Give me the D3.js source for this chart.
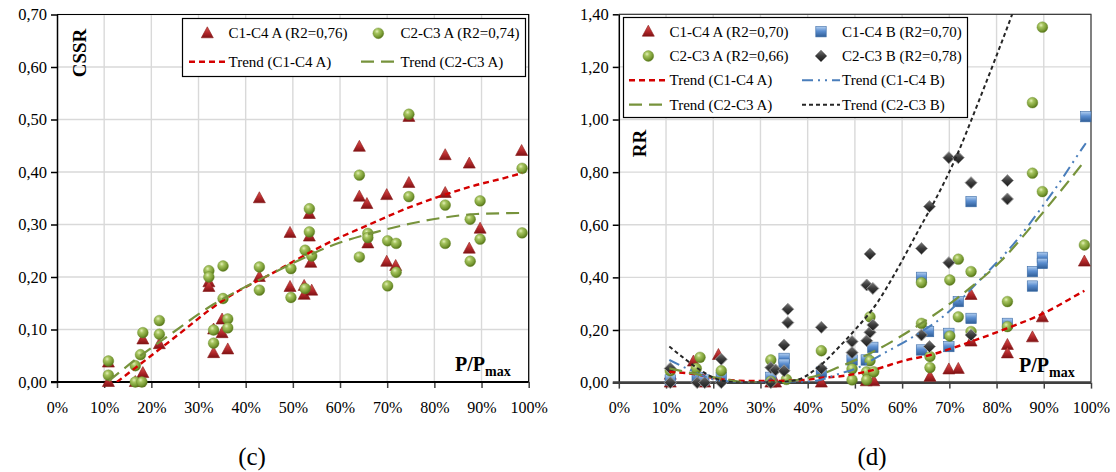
<!DOCTYPE html>
<html><head><meta charset="utf-8">
<script src="https://cdn.jsdelivr.net/npm/d3@7"></script>
<style>
body{margin:0;background:#fff}
svg{display:block}
text{font-family:"Liberation Serif","Times New Roman",serif;fill:#000}
</style>
</head><body>
<svg id="chart" width="1116" height="472"></svg>
<script>
// ---------------- DATA ----------------
const xTickValues = [0,10,20,30,40,50,60,70,80,90,100];
const cssrTickValues = [0,0.1,0.2,0.3,0.4,0.5,0.6,0.7];
const rrTickValues = [0,0.2,0.4,0.6,0.8,1.0,1.2,1.4];

// (c) CSSR  -- [P/Pmax %, value]
const cssrC1C4A = [[10.9,0.000],[10.9,0.037],[16.6,0.000],[17.4,0.000],[18.2,0.081],[18.2,0.017],[21.7,0.072],
 [32.2,0.190],[32.2,0.181],[33.2,0.100],[33.2,0.055],[35.0,0.119],[35.0,0.093],[36.2,0.062],
 [42.9,0.350],[42.9,0.200],[49.4,0.284],[49.4,0.181],[52.4,0.183],[52.4,0.166],[53.5,0.320],[53.5,0.277],[53.8,0.227],[54.0,0.174],
 [64.1,0.448],[64.1,0.353],[65.7,0.339],[65.9,0.264],[69.9,0.356],[69.9,0.229],[71.8,0.221],
 [74.6,0.505],[74.6,0.379],[82.3,0.432],[82.3,0.360],[87.4,0.416],[87.4,0.254],[89.7,0.292],[98.5,0.440]];
const cssrC2C3A = [[10.9,0.040],[10.9,0.013],[16.6,0.000],[16.6,0.031],[17.7,0.052],[18.0,0.000],[18.2,0.094],[21.7,0.117],[21.7,0.091],
 [32.2,0.212],[32.2,0.200],[33.2,0.099],[33.2,0.074],[35.2,0.221],[35.2,0.159],[36.2,0.120],[36.2,0.103],
 [42.9,0.219],[42.9,0.175],[49.6,0.216],[49.6,0.161],[52.6,0.251],[52.6,0.178],[53.5,0.330],[53.5,0.286],[54.0,0.240],
 [64.1,0.394],[64.1,0.238],[65.9,0.283],[65.9,0.275],[70.1,0.269],[70.1,0.183],[71.9,0.264],[71.9,0.209],
 [74.6,0.510],[74.6,0.353],[82.3,0.337],[82.3,0.264],[87.6,0.310],[87.6,0.230],[89.7,0.345],[89.7,0.272],[98.6,0.407],[98.6,0.284]];
const cssrTrendC1C4A = [[12.7,0],[19.8,0.049],[26.1,0.093],[33.2,0.143],[37.4,0.168],[42.4,0.192],[45.2,0.205],[50.0,0.229],[57.5,0.265],
 [65.7,0.298],[74.8,0.333],[82.3,0.357],[88.0,0.373],[94.6,0.388],[98.6,0.398]];
const cssrTrendC2C3A = [[11.0,0.002],[18.3,0.054],[23.3,0.086],[33.2,0.148],[40.3,0.183],[45.2,0.205],[50.6,0.229],[57.7,0.258],
 [67.8,0.286],[81.9,0.313],[89.0,0.320],[98.6,0.322]];

// (d) RR
const rrC1C4A = [[10.9,0.0],[10.9,0.03],[15.8,0.08],[18.2,0.0],[21.1,0.105],[32.2,0.0],[33.2,0.0],[42.9,0.0],[52.4,0.005],[54.0,0.005],
 [65.9,0.022],[69.9,0.05],[71.9,0.052],[74.6,0.333],[74.6,0.156],[82.3,0.143],[82.3,0.111],[87.6,0.172],[89.7,0.248],[98.6,0.46]];
const rrC1C4B = [[10.9,0.01],[16.6,0.02],[18.0,0.01],[21.7,0.02],[32.2,0.02],[35.0,0.092],[35.0,0.07],[42.9,0.04],[49.4,0.086],
 [52.4,0.086],[53.8,0.134],[64.1,0.40],[64.1,0.124],[65.6,0.194],[69.9,0.187],[69.9,0.137],[71.9,0.308],[74.6,0.688],[74.6,0.244],
 [82.3,0.225],[87.6,0.422],[87.6,0.367],[89.7,0.476],[89.7,0.453],[98.9,1.011]];
const rrC2C3A = [[10.9,0.045],[16.4,0.054],[17.2,0.096],[21.7,0.045],[32.2,0.086],[32.2,0.005],[35.5,0.012],[42.9,0.121],
 [49.4,0.052],[49.4,0.01],[52.5,0.041],[52.5,0.01],[53.2,0.25],[53.2,0.083],[54.0,0.041],[64.1,0.38],[64.1,0.225],[65.9,0.099],
 [65.9,0.057],[70.1,0.39],[70.1,0.177],[71.9,0.469],[71.9,0.25],[74.6,0.422],[74.6,0.194],[82.3,0.308],[82.3,0.213],
 [87.6,1.064],[87.6,0.796],[89.7,1.351],[89.7,0.726],[98.6,0.523]];
const rrC2C3B = [[10.9,0.054],[10.9,0.0],[16.6,0.0],[18.2,0.0],[21.7,0.089],[21.7,0.0],[32.2,0.057],[32.2,0.0],[33.2,0.048],
 [35.0,0.143],[35.0,0.045],[35.8,0.279],[35.8,0.228],[42.9,0.21],[42.9,0.054],[49.4,0.156],[49.4,0.114],[52.5,0.159],[52.5,0.371],
 [53.2,0.489],[53.2,0.191],[53.8,0.358],[53.8,0.219],[64.1,0.51],[64.1,0.181],[65.8,0.669],[65.8,0.137],[69.9,0.855],[69.9,0.456],
 [71.9,0.855],[74.6,0.76],[74.6,0.181],[82.3,0.768],[82.3,0.698]];
const rrTrendC1C4A = [[10.7,0.041],[17.2,0.029],[21.4,0.013],[29.2,0.006],[37.7,0.008],[44,0.02],[46.9,0.024],[53.2,0.045],[61,0.086],
 [66,0.105],[69.5,0.124],[76.5,0.168],[82.2,0.206],[89.9,0.263],[97.7,0.34],[98.6,0.349]];
const rrTrendC1C4B = [[10.7,0.086],[15.1,0.048],[20.7,0.01],[28,0.0],[36,0.0],[42.6,0.01],[46.9,0.035],[49.7,0.05],[56,0.11],
 [62.4,0.175],[69.1,0.257],[75.8,0.378],[84.3,0.542],[90.7,0.694],[92,0.726],[98.4,0.897],[98.9,0.91]];
const rrTrendC2C3A = [[10.7,0.054],[21.4,0.016],[28,0.0],[33,0.0],[37.7,0.01],[42.6,0.03],[46.5,0.058],[53.2,0.111],[63.8,0.222],
 [70.2,0.301],[72.3,0.33],[80.8,0.46],[88.5,0.618],[92,0.694],[96.3,0.789],[98.8,0.846]];
const rrTrendC2C3B = [[10.7,0.137],[14,0.09],[17.2,0.048],[21.4,0.01],[26,0],[32,0],[37.7,0.01],[41.9,0.054],[46.9,0.14],[50,0.2],
 [54.9,0.308],[58,0.40],[63.8,0.59],[67,0.694],[71.5,0.86],[75.8,1.05],[79.5,1.22],[83.3,1.40],[84.5,1.46]];

// ---------------- STYLES ----------------
const svg = d3.select("#chart");
const defs = svg.append("defs");
function linGrad(id, stops){
  const g = defs.append("linearGradient").attr("id", id).attr("x1",0).attr("y1",0).attr("x2",0).attr("y2",1);
  stops.forEach(s => g.append("stop").attr("offset", s[0]).attr("stop-color", s[1]));
}
linGrad("gTri", [[0,"#d9574f"],[0.55,"#b3282b"],[1,"#7f1214"]]);
linGrad("gSq", [[0,"#b3cff0"],[0.45,"#5b8ed0"],[1,"#2f5d96"]]);
linGrad("gDia", [[0,"#777"],[0.5,"#3a3a3a"],[1,"#1b1b1b"]]);
const rg = defs.append("radialGradient").attr("id","gCir").attr("cx","38%").attr("cy","32%").attr("r","68%");
[[0,"#e3f0b8"],[0.3,"#a6c45f"],[0.75,"#789a33"],[1,"#557318"]].forEach(s => rg.append("stop").attr("offset", s[0]).attr("stop-color", s[1]));

const markers = {
  tri: g => g.append("path").attr("d","M0,-6.5L6,4.5L-6,4.5Z").attr("fill","url(#gTri)").attr("stroke","#8a1a1a").attr("stroke-width",0.6),
  cir: g => g.append("circle").attr("r",5.4).attr("fill","url(#gCir)").attr("stroke","#6a8a2a").attr("stroke-width",0.4),
  sq:  g => g.append("rect").attr("x",-5.2).attr("y",-5.2).attr("width",10.4).attr("height",10.4).attr("fill","url(#gSq)").attr("stroke","#3b6ba6").attr("stroke-width",0.6),
  dia: g => g.append("path").attr("d","M0,-6L6,0L0,6L-6,0Z").attr("fill","url(#gDia)").attr("stroke","#9a9a9a").attr("stroke-width",0.9)
};
const trendStyles = {
  red:   {color:"#d40000", dash:"6,4", width:2.4},
  green: {color:"#77933c", dash:"13,7", width:2.2},
  blue:  {color:"#4a7ebb", dash:"11,5,2,5,2,5", width:2},
  black: {color:"#262626", dash:"4,3", width:2}
};

const locale = d3.formatLocale({decimal:",", thousands:".", grouping:[3], currency:["","€"]});
const yFmt = locale.format(".2f");

function drawChart(cfg){
  const x = d3.scaleLinear().domain([0,100]).range([cfg.x0, cfg.x1]);
  const y = d3.scaleLinear().domain([0, cfg.yMax]).range([cfg.y0, cfg.y1]);
  const g = svg.append("g");
  const clipId = "clip" + cfg.id;
  defs.append("clipPath").attr("id", clipId).append("rect")
    .attr("x", cfg.x0).attr("y", cfg.y1).attr("width", cfg.x1-cfg.x0).attr("height", cfg.y0-cfg.y1);

  // grid
  g.append("g").selectAll("line").data(xTickValues.slice(1)).join("line")
    .attr("x1", d=>x(d)).attr("x2", d=>x(d)).attr("y1", cfg.y0).attr("y2", cfg.y1)
    .attr("stroke","#d9d9d9").attr("stroke-width",1.4);
  g.append("g").selectAll("line").data(cfg.yTicks.slice(1)).join("line")
    .attr("x1", cfg.x0).attr("x2", cfg.x1).attr("y1", d=>y(d)).attr("y2", d=>y(d))
    .attr("stroke","#d9d9d9").attr("stroke-width",1.4);
  // frame top/right
  g.append("path").attr("d", `M${cfg.x0},${cfg.y1}H${cfg.x1}V${cfg.y0}`).attr("fill","none")
    .attr("stroke", cfg.frameColor).attr("stroke-width",1.2);

  // axes
  const xAxis = d3.axisBottom(x).tickValues(xTickValues).tickFormat(d => d + "%").tickSize(6).tickSizeOuter(0);
  const xa = g.append("g").attr("transform", `translate(0,${cfg.y0})`).call(xAxis);
  xa.select(".domain").remove();
  xa.selectAll("line").attr("stroke","#404040").attr("stroke-width",1.5);
  xa.selectAll("text").attr("font-size",16).attr("font-family","Liberation Serif").attr("dy","1.35em").attr("fill","#000");
  const yAxis = d3.axisLeft(y).tickValues(cfg.yTicks).tickFormat(yFmt).tickSize(6).tickSizeOuter(0);
  const ya = g.append("g").attr("transform", `translate(${cfg.x0},0)`).call(yAxis);
  ya.select(".domain").attr("stroke","#000").attr("stroke-width",1.5);
  ya.selectAll("line").attr("stroke","#000").attr("stroke-width",1.5);
  ya.selectAll("text").attr("font-size",16.5).attr("font-family","Liberation Serif").attr("x",-10).attr("fill","#000");
  g.append("line").attr("x1", cfg.x0-6).attr("x2", cfg.x1).attr("y1", cfg.y0).attr("y2", cfg.y0)
    .attr("stroke", cfg.xAxisColor).attr("stroke-width", cfg.xAxisWidth);

  // markers
  cfg.series.forEach(s => {
    const sg = g.append("g");
    s.data.forEach(d => {
      const m = sg.append("g").attr("transform", `translate(${x(d[0])},${y(d[1])})`);
      markers[s.marker](m);
    });
  });
  // trend lines
  const line = d3.line().x(d=>x(d[0])).y(d=>y(d[1])).curve(d3.curveMonotoneX);
  const tg = g.append("g").attr("clip-path", `url(#${clipId})`);
  cfg.trends.forEach(t => {
    const st = trendStyles[t.style];
    tg.append("path").attr("d", line(t.data)).attr("fill","none").attr("stroke", st.color)
      .attr("stroke-width", st.width).attr("stroke-dasharray", st.dash);
  });

  // axis titles
  g.append("text").attr("transform", `translate(${cfg.yLabelX},${cfg.yLabelY}) rotate(-90)`)
    .attr("text-anchor","middle").attr("font-weight","bold").attr("font-size",19).text(cfg.yLabel);
  const pl = g.append("text").attr("x", cfg.pX).attr("y", cfg.pY).attr("font-weight","bold").attr("font-size",20);
  pl.append("tspan").text("P/P");
  pl.append("tspan").attr("font-size",14).attr("dy",5).text("max");
  // caption
  g.append("text").attr("x", cfg.capX).attr("y", 465).attr("text-anchor","middle").attr("font-size",25).text(cfg.caption);

  // legend
  const L = cfg.legend;
  const lg = g.append("g");
  lg.append("rect").attr("x", L.x).attr("y", L.y).attr("width", L.w).attr("height", L.h)
    .attr("fill","#fff").attr("stroke","#000").attr("stroke-width",1.2);
  L.items.forEach(it => {
    const cx = L.cols[it.col], cy = L.rows[it.row];
    if (it.marker) {
      const m = lg.append("g").attr("transform", `translate(${cx.m},${cy})`);
      markers[it.marker](m);
    } else {
      const st = trendStyles[it.line];
      lg.append("line").attr("x1", cx.l0).attr("x2", cx.l1).attr("y1", cy).attr("y2", cy)
        .attr("stroke", st.color).attr("stroke-width", st.width).attr("stroke-dasharray", st.dash);
    }
    lg.append("text").attr("x", cx.t).attr("y", cy + 5).attr("font-size",15).text(it.label);
  });
}

drawChart({
  id:"c", x0:57, x1:528.7, y0:382, y1:14.5, yMax:0.7, yTicks: cssrTickValues,
  frameColor:"#000", xAxisColor:"#000", xAxisWidth:2,
  yLabel:"CSSR", yLabelX:86, yLabelY:53, pX:455, pY:371, capX:252, caption:"(c)",
  series:[{data:cssrC1C4A, marker:"tri"},{data:cssrC2C3A, marker:"cir"}],
  trends:[{data:cssrTrendC1C4A, style:"red"},{data:cssrTrendC2C3A, style:"green"}],
  legend:{x:182.5, y:18.5, w:343, h:58, rows:[33.3,61.7],
    cols:[{m:207.3, t:228.5, l0:189, l1:226.5},{m:378.3, t:400.5, l0:361, l1:398}],
    items:[
      {row:0,col:0,marker:"tri",label:"C1-C4 A (R2=0,76)"},
      {row:0,col:1,marker:"cir",label:"C2-C3 A (R2=0,74)"},
      {row:1,col:0,line:"red",label:"Trend (C1-C4 A)"},
      {row:1,col:1,line:"green",label:"Trend (C2-C3 A)"}]}
});

drawChart({
  id:"d", x0:618.8, x1:1091, y0:382.6, y1:14.3, yMax:1.4, yTicks: rrTickValues,
  frameColor:"#404040", xAxisColor:"#404040", xAxisWidth:2.6,
  yLabel:"RR", yLabelX:646, yLabelY:143.5, pX:1019, pY:372, capX:872, caption:"(d)",
  series:[{data:rrC1C4A, marker:"tri"},{data:rrC1C4B, marker:"sq"},{data:rrC2C3A, marker:"cir"},{data:rrC2C3B, marker:"dia"}],
  trends:[{data:rrTrendC1C4A, style:"red"},{data:rrTrendC1C4B, style:"blue"},{data:rrTrendC2C3A, style:"green"},{data:rrTrendC2C3B, style:"black"}],
  legend:{x:623.5, y:17.5, w:344, h:100, rows:[31.7,56,80.3,104.7],
    cols:[{m:648.3, t:669.5, l0:629, l1:667},{m:821, t:842, l0:802, l1:840}],
    items:[
      {row:0,col:0,marker:"tri",label:"C1-C4 A (R2=0,70)"},
      {row:0,col:1,marker:"sq",label:"C1-C4 B (R2=0,70)"},
      {row:1,col:0,marker:"cir",label:"C2-C3 A (R2=0,66)"},
      {row:1,col:1,marker:"dia",label:"C2-C3 B (R2=0,78)"},
      {row:2,col:0,line:"red",label:"Trend (C1-C4 A)"},
      {row:2,col:1,line:"blue",label:"Trend (C1-C4 B)"},
      {row:3,col:0,line:"green",label:"Trend (C2-C3 A)"},
      {row:3,col:1,line:"black",label:"Trend (C2-C3 B)"}]}
});
</script>
</body></html>
